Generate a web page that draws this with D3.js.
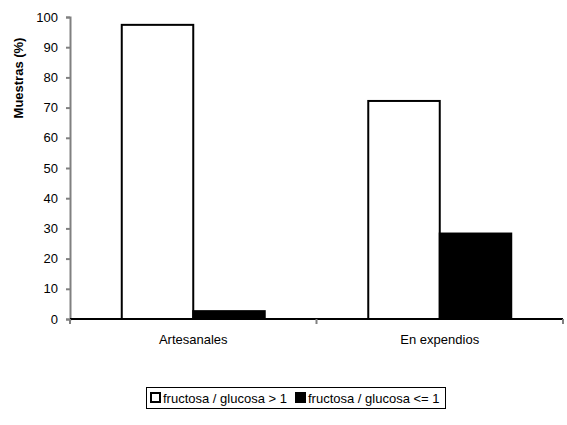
<!DOCTYPE html>
<html>
<head>
<meta charset="utf-8">
<script src="https://cdn.jsdelivr.net/npm/d3@7"></script>
<style>
  body { margin: 0; background: #fff; }
  text { font-family: "Liberation Sans", Arial, sans-serif; }
</style>
</head>
<body>
<div id="chart"></div>
<script>
var categories = ['Artesanales', 'En expendios']
var seriesNames = ['fructosa / glucosa > 1', 'fructosa / glucosa <= 1']
var seriesMayor = [97.4, 72.2]
var seriesMenor = [2.6, 28.3]
var yTicks = [0, 10, 20, 30, 40, 50, 60, 70, 80, 90, 100]

var width = 567
var height = 425
var mLeft = 70, mRight = 563, mTop = 17, mBottom = 319

var svg = d3.select('#chart').append('svg')
    .attr('width', width)
    .attr('height', height)

// escalas
var X = d3.scaleBand().domain(categories).range([mLeft, mRight]).paddingInner(0).paddingOuter(0)
var Y = d3.scaleLinear().domain([0, 100]).range([mBottom, mTop])
var inner = d3.scaleBand().domain([0, 1]).range([0, X.bandwidth()]).paddingInner(0).paddingOuter(0.724)

var fills = ['#ffffff', '#000000']
var rows = categories.map(function (c, i) {
    return { cat: c, vals: [seriesMayor[i], seriesMenor[i]] }
})

// barras
var groups = svg.append('g').selectAll('g')
    .data(rows)
    .enter()
    .append('g')
    .attr('transform', function (d) { return 'translate(' + X(d.cat) + ',0)' })
groups.selectAll('rect')
    .data(function (d) { return d.vals })
    .enter()
    .append('rect')
    .attr('x', function (d, i) { return inner(i) })
    .attr('y', function (d) { return Y(d) })
    .attr('width', inner.bandwidth())
    .attr('height', function (d) { return Y(0) - Y(d) })
    .attr('fill', function (d, i) { return fills[i] })
    .attr('stroke', '#000')
    .attr('stroke-width', 2)

// eje Y
var yAxis = svg.append('g')
    .attr('transform', 'translate(' + mLeft + ',0)')
    .call(d3.axisLeft(Y).tickValues(yTicks).tickSize(4).tickPadding(8))
yAxis.select('.domain').attr('stroke', '#808080').attr('stroke-width', 2)
yAxis.selectAll('.tick line').attr('stroke', '#808080').attr('stroke-width', 2)
yAxis.selectAll('.tick text').attr('font-size', 13).attr('fill', '#000')
    .style('font-family', '"Liberation Sans", Arial, sans-serif')

// eje X
var xAxisG = svg.append('g').attr('transform', 'translate(0,' + mBottom + ')')
xAxisG.append('line')
    .attr('x1', mLeft).attr('x2', mRight).attr('y1', 0).attr('y2', 0)
    .attr('stroke', '#000').attr('stroke-width', 2)
var bounds = [mLeft].concat(categories.map(function (c) { return X(c) + X.bandwidth() }))
xAxisG.selectAll('line.tk')
    .data(bounds)
    .enter()
    .append('line')
    .attr('class', 'tk')
    .attr('x1', function (d) { return d }).attr('x2', function (d) { return d })
    .attr('y1', 0).attr('y2', 5)
    .attr('stroke', '#808080').attr('stroke-width', 2)
xAxisG.selectAll('text')
    .data(categories)
    .enter()
    .append('text')
    .attr('x', function (d) { return X(d) + X.bandwidth() / 2 })
    .attr('y', 25)
    .attr('text-anchor', 'middle')
    .attr('font-size', 13)
    .text(function (d) { return d })

// titulo eje Y
svg.append('text')
    .attr('transform', 'translate(23,78) rotate(-90)')
    .attr('text-anchor', 'middle')
    .attr('font-size', 13)
    .attr('font-weight', 'bold')
    .text('Muestras (%)')

// leyenda
var legend = svg.append('g')
legend.append('rect')
    .attr('x', 146.5).attr('y', 387.5).attr('width', 299).attr('height', 21)
    .attr('fill', '#fff').attr('stroke', '#000').attr('stroke-width', 1)
var lx = [151, 296]
seriesNames.forEach(function (name, i) {
    legend.append('rect')
        .attr('x', lx[i]).attr('y', 393).attr('width', 9).attr('height', 9)
        .attr('fill', fills[i]).attr('stroke', '#000').attr('stroke-width', 2)
    legend.append('text')
        .attr('x', lx[i] + 12).attr('y', 403)
        .attr('font-size', 13)
        .text(name)
})
</script>
</body>
</html>
